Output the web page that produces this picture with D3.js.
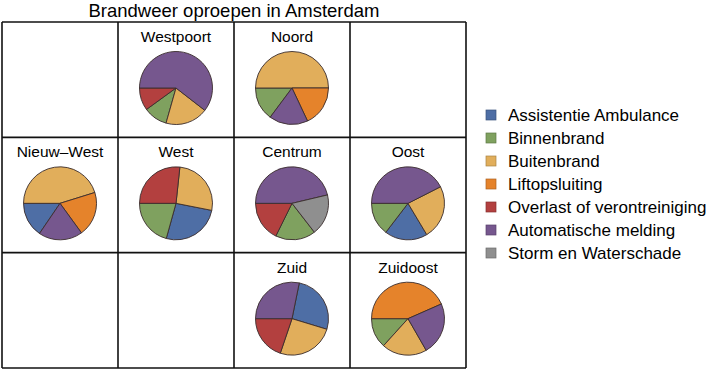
<!DOCTYPE html>
<html>
<head>
<meta charset="utf-8">
<script src="https://cdn.jsdelivr.net/npm/d3@7"></script>
<style>
  body { margin: 0; background: #fff; }
  text { font-family: "Liberation Sans", Arial, sans-serif; fill: #000; }
</style>
</head>
<body>
<div id="chart"></div>
<script>
// categories (legend order) and their colours
const categories = ['Assistentie Ambulance', 'Binnenbrand', 'Buitenbrand', 'Liftopsluiting',
  'Overlast of verontreiniging', 'Automatische melding', 'Storm en Waterschade'];
const colors = ['#4e6ea5', '#7fa15f', '#e1ae5b', '#e5832b', '#b3403f', '#76578e', '#8f8f8f'];

// district layout on the 4x3 grid (empty string = empty cell)
const gridRows = [
  ['', 'Westpoort', 'Noord', ''],
  ['Nieuw\u2013West', 'West', 'Centrum', 'Oost'],
  ['', '', 'Zuid', 'Zuidoost']
];

// share of calls per category (%), same order as categories
const westpoort = [0, 10.6, 18.9, 0, 10, 60.5, 0];
const noord     = [0, 14.8, 50, 18, 0, 17.2, 0];
const nieuwWest = [15.5, 0, 45.2, 19.8, 0, 19.5, 0];
const west      = [26.2, 20.7, 26.4, 0, 26.7, 0, 0];
const centrum   = [0, 17.8, 0, 0, 17.7, 46.3, 18.2];
const oost      = [19, 14.6, 23.9, 0, 0, 42.5, 0];
const zuid      = [26.5, 0, 25.5, 0, 19.8, 28.2, 0];
const zuidoost  = [0, 13.3, 20, 43.4, 0, 23.3, 0];

const districtValues = {
  'Westpoort': westpoort, 'Noord': noord, 'Nieuw\u2013West': nieuwWest, 'West': west,
  'Centrum': centrum, 'Oost': oost, 'Zuid': zuid, 'Zuidoost': zuidoost
};

const width = 714, height = 372;
const svg = d3.select('#chart').append('svg')
    .attr('width', width)
    .attr('height', height);

const x = d3.scaleBand().domain(d3.range(4)).range([2, 466]);
const y = d3.scaleBand().domain(d3.range(3)).range([22, 368]);
const color = d3.scaleOrdinal().domain(categories).range(colors);

// title
svg.append('text')
    .attr('x', 234)
    .attr('y', 17)
    .attr('text-anchor', 'middle')
    .style('font-size', '18.5px')
    .text('Brandweer oproepen in Amsterdam');

const pie = d3.pie()
    .value(d => d.value)
    .sort((a, b) => b.value - a.value)
    .startAngle(-Math.PI / 2)
    .endAngle(3 * Math.PI / 2);
const arc = d3.arc().innerRadius(0).outerRadius(36.5);

gridRows.forEach((row, r) => {
  row.forEach((name, c) => {
    if (!name) return;
    const g = svg.append('g')
        .attr('transform', `translate(${x(c)},${y(r)})`);

    g.append('text')
        .attr('x', x.bandwidth() / 2)
        .attr('y', 20)
        .attr('text-anchor', 'middle')
        .style('font-size', '15.5px')
        .text(name);

    const data = categories.map((k, i) => ({ key: k, value: districtValues[name][i] }))
        .filter(d => d.value > 0);

    g.append('g')
        .attr('transform', `translate(${x.bandwidth() / 2},66)`)
      .selectAll('path')
      .data(pie(data))
      .join('path')
        .attr('d', arc)
        .attr('fill', d => color(d.data.key))
        .attr('stroke', '#3a2c2c')
        .attr('stroke-width', 0.9)
        .attr('stroke-linejoin', 'round');
  });
});

// grid lines
const grid = svg.append('g')
    .attr('stroke', '#111')
    .attr('stroke-width', 1.6);
d3.range(5).forEach(i => {
  const xx = i < 4 ? x(i) : x(3) + x.bandwidth();
  grid.append('line').attr('x1', xx).attr('x2', xx).attr('y1', 22).attr('y2', 368);
});
d3.range(4).forEach(i => {
  const yy = i < 3 ? y(i) : y(2) + y.bandwidth();
  grid.append('line').attr('x1', 2).attr('x2', 466).attr('y1', yy).attr('y2', yy);
});

// legend
const legend = svg.append('g')
    .attr('transform', 'translate(486,115)');
const items = legend.selectAll('g')
    .data(categories)
    .join('g')
    .attr('transform', (d, i) => `translate(0,${i * 23})`);
items.append('rect')
    .attr('x', 0)
    .attr('y', -5)
    .attr('width', 10)
    .attr('height', 10)
    .attr('fill', d => color(d))
    .attr('stroke', d => d3.color(color(d)).darker(0.8))
    .attr('stroke-width', 0.7);
items.append('text')
    .attr('x', 22)
    .attr('y', 6)
    .style('font-size', '17px')
    .text(d => d);
</script>
</body>
</html>
